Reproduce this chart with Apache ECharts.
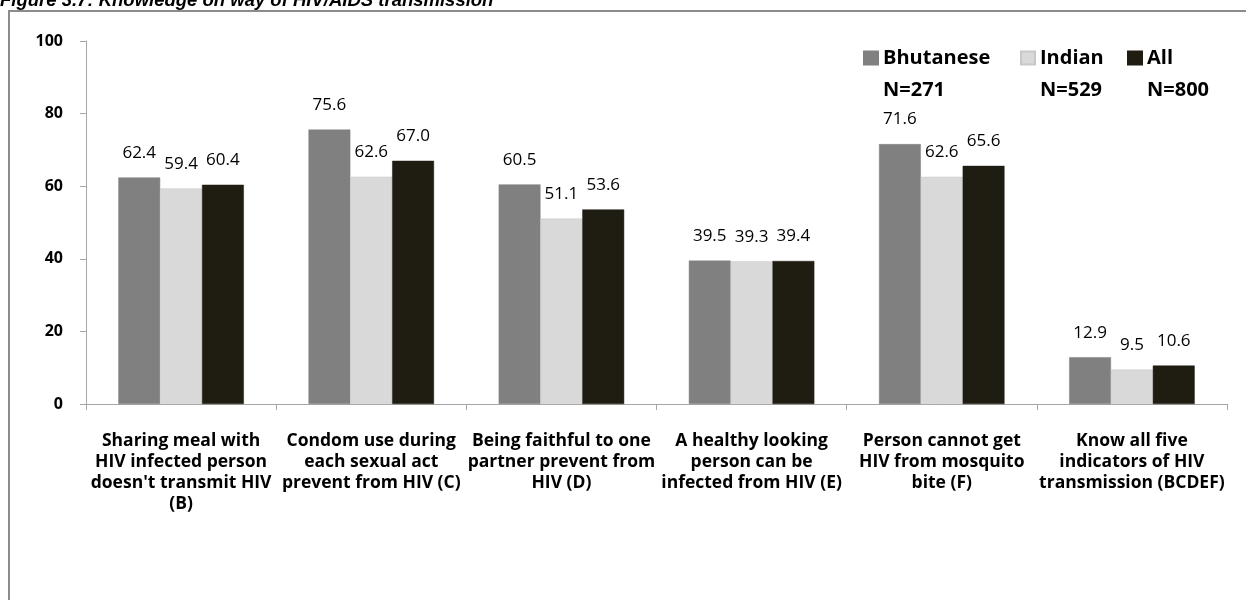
<!DOCTYPE html>
<html>
<head>
<meta charset="utf-8">
<script src="https://cdn.jsdelivr.net/npm/echarts@6/dist/echarts.min.js"></script>
<style>
html,body{margin:0;padding:0;background:#fff;}
#chart{width:1246px;height:600px;}
</style>
</head>
<body>
<div id="chart"></div>
<script>
const titleText = 'Figure 3.7: Knowledge on way of HIV/AIDS transmission';
const categories = [
  "Sharing meal with\nHIV infected person\ndoesn't transmit HIV\n(B)",
  "Condom use during\neach sexual act\nprevent from HIV (C)",
  "Being faithful to one\npartner prevent from\nHIV (D)",
  "A healthy looking\nperson can be\ninfected from HIV (E)",
  "Person cannot get\nHIV from mosquito\nbite (F)",
  "Know all five\nindicators of HIV\ntransmission (BCDEF)"
];
const seriesNames = ['Bhutanese', 'Indian', 'All'];
const seriesN = ['N=271', 'N=529', 'N=800'];
const bhutanese = [62.4, 75.6, 60.5, 39.5, 71.6, 12.9];
const indian = [59.4, 62.6, 51.1, 39.3, 62.6, 9.5];
const all = [60.4, 67.0, 53.6, 39.4, 65.6, 10.6];
const yTicks = {min: 0, max: 100, interval: 20};

const colors = ['#808080', '#d9d9d9', '#1f1c12'];
const sans = '"Open Sans", Lato, "Liberation Sans", sans-serif';
const values = [bhutanese, indian, all];
const legendLeft = [863, 1020, 1127];

const chart = echarts.init(document.getElementById('chart'), null, {renderer: 'canvas'});
const option = {
  animation: false,
  backgroundColor: '#fff',
  color: colors,
  grid: {left: 86, right: 19, top: 41, bottom: 196, containLabel: false},
  legend: seriesNames.map(function (name, i) {
    return {
      data: [name],
      left: legendLeft[i], top: 10, padding: 0,
      icon: 'rect', itemWidth: 14, itemHeight: 13, itemTextGap: 7,
      formatter: function (nm) {
        return '\n' + nm + '\n' + seriesN[seriesNames.indexOf(nm)];
      },
      textStyle: {fontFamily: sans, fontWeight: 'bold', fontSize: 20, lineHeight: 32, color: '#000'}
    };
  }),
  xAxis: {
    type: 'category',
    data: categories,
    axisLine: {lineStyle: {color: '#a6a6a6', width: 1}},
    axisTick: {show: true, alignWithLabel: false, length: 6, lineStyle: {color: '#a6a6a6'}},
    axisLabel: {interval: 0, margin: 27, fontFamily: sans, fontWeight: 'bold', fontSize: 17.5, lineHeight: 21, color: '#000'}
  },
  yAxis: {
    type: 'value',
    min: yTicks.min, max: yTicks.max, interval: yTicks.interval,
    splitLine: {show: false},
    axisLine: {show: true, lineStyle: {color: '#a6a6a6', width: 1}},
    axisTick: {show: true, length: 6, lineStyle: {color: '#a6a6a6'}},
    axisLabel: {margin: 23, fontFamily: sans, fontWeight: 'bold', fontSize: 16, color: '#000'}
  },
  series: seriesNames.map(function (n, i) {
    return {
      name: n,
      type: 'bar',
      data: values[i],
      barGap: '0%',
      barCategoryGap: '34%',
      itemStyle: {color: colors[i], borderColor: i === 1 ? '#c8c8c8' : colors[i], borderWidth: 0.5},
      label: {
        show: true, position: 'top', distance: 16,
        fontFamily: sans, fontSize: 17, color: '#000',
        formatter: function (p) { return Number(p.value).toFixed(1); }
      }
    };
  }),
  graphic: [
    {type: 'text', left: 0, top: -9, style: {text: titleText, font: 'italic bold 18.5px "Liberation Sans", Arial, sans-serif', fill: '#000'}},
    {type: 'polyline', shape: {points: [[9, 600], [9, 11], [1246, 11]]}, style: {stroke: '#8c8c8c', lineWidth: 2, fill: null}}
  ]
};
chart.setOption(option);
</script>
</body>
</html>
